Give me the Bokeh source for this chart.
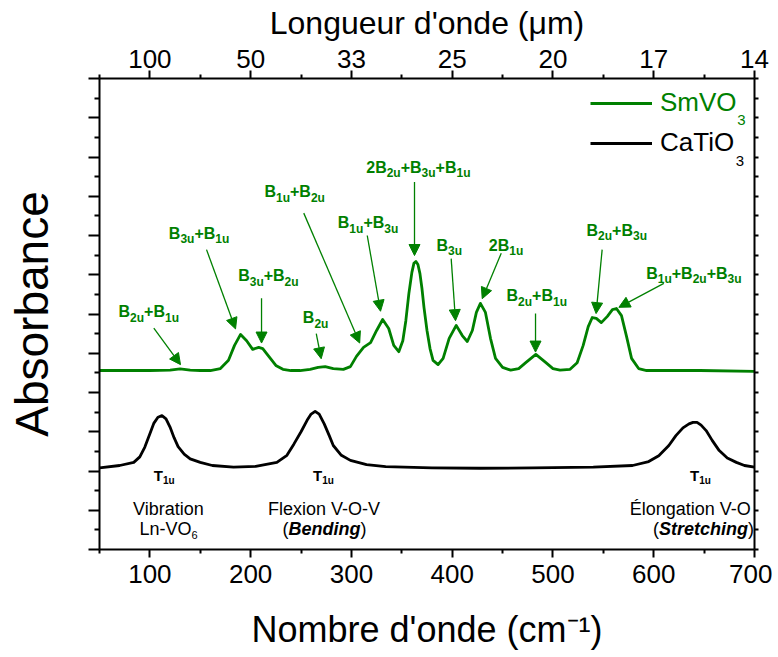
import re
from bokeh.plotting import figure
from bokeh.models import (Range1d, LinearAxis, FixedTicker, Label, Arrow, NormalHead,
                          ColumnDataSource, Legend, LegendItem)
from bokeh.embed import file_html
from bokeh.resources import INLINE

# ---------------- data ----------------
smvo3_wn = [50, 100, 120, 130, 140, 150, 160, 170, 178, 184, 190, 196, 202, 208, 212, 218, 225, 232,
            240, 249, 259, 267, 274, 282, 292, 299, 305, 312, 319, 325, 331, 337, 342, 347, 351, 354,
            357, 360, 362, 364, 366, 368, 370, 372, 375, 378, 381, 386, 391, 397, 404, 410, 415, 420,
            424, 428, 433, 438, 443, 450, 458, 466, 473, 483, 493, 500, 507, 517, 524, 530, 535, 539,
            543, 548, 554, 559, 563, 568, 573, 578, 585, 593, 646, 700]
smvo3_abs = [4.56, 4.56, 4.57, 4.60, 4.57, 4.56, 4.56, 4.61, 4.82, 5.20, 5.48, 5.32, 5.10, 5.15, 5.12,
             4.92, 4.69, 4.59, 4.56, 4.56, 4.59, 4.64, 4.66, 4.61, 4.59, 4.66, 4.92, 5.15, 5.27, 5.58,
             5.86, 5.63, 5.20, 5.04, 5.32, 5.83, 6.52, 7.06, 7.29, 7.34, 7.26, 7.03, 6.65, 6.17, 5.58,
             5.12, 4.82, 4.71, 4.87, 5.38, 5.71, 5.45, 5.30, 5.58, 6.04, 6.27, 6.04, 5.38, 4.87, 4.64,
             4.57, 4.61, 4.76, 4.97, 4.76, 4.61, 4.57, 4.59, 4.76, 5.20, 5.68, 5.91, 5.89, 5.78, 5.94,
             6.11, 6.14, 5.96, 5.43, 4.87, 4.61, 4.56, 4.56, 4.54]

catio3_wn = [50, 70, 84, 90, 95, 100, 104, 108, 112, 116, 120, 124, 128, 134, 140, 150, 162, 183, 205,
             226, 236, 243, 250, 256, 260, 264, 268, 273, 278, 282, 290, 299, 315, 334, 380, 428, 480,
             540, 579, 595, 605, 615, 622, 629, 635, 639, 643, 647, 652, 658, 665, 673, 682, 690, 700]
catio3_abs = [2.08, 2.14, 2.22, 2.36, 2.61, 2.95, 3.22, 3.37, 3.41, 3.33, 3.12, 2.85, 2.62, 2.43, 2.31,
              2.22, 2.14, 2.10, 2.12, 2.22, 2.40, 2.69, 3.00, 3.29, 3.45, 3.52, 3.45, 3.20, 2.90, 2.65,
              2.40, 2.27, 2.16, 2.11, 2.08, 2.07, 2.08, 2.10, 2.14, 2.24, 2.39, 2.65, 2.90, 3.10, 3.20,
              3.24, 3.24, 3.17, 3.03, 2.78, 2.52, 2.33, 2.22, 2.14, 2.10]

wn_ticks = [100, 200, 300, 400, 500, 600, 700]
wn_minor = [50, 150, 250, 350, 450, 550, 650]
wavelength_labels = ["100", "50", "33", "25", "20", "17", "14"]

series_names = ["SmVO", "CaTiO"]          # + subscript "3"

# band assignments (green) : text, label anchor, arrow start -> arrow end
band_texts = ["B_{2u}+B_{1u}", "B_{3u}+B_{1u}", "B_{3u}+B_{2u}", "B_{2u}", "B_{1u}+B_{2u}",
              "B_{1u}+B_{3u}", "2B_{2u}+B_{3u}+B_{1u}", "B_{3u}", "2B_{1u}", "B_{2u}+B_{1u}",
              "B_{2u}+B_{3u}", "B_{1u}+B_{2u}+B_{3u}"]
band_x = [68.9, 118.8, 187.6, 251.8, 213.7, 286.5, 314.7, 384.4, 436.3, 453.9, 533.3, 592.5]
band_y = [6.06, 8.06, 6.98, 5.90, 9.12, 8.32, 9.74, 7.75, 7.75, 6.47, 8.13, 7.04]
arrow_x0 = [103.9, 156.2, 210.8, 265.1, 252.7, 315.7, 362.6, 399.0, 448.7, 482.7, 548.8, 610.0]
arrow_y0 = [5.64, 7.64, 6.40, 5.50, 8.57, 8.00, 9.36, 7.41, 7.55, 6.01, 7.64, 6.78]
arrow_x1 = [130.4, 185.0, 210.8, 270.0, 308.2, 328.9, 362.6, 403.3, 429.8, 482.7, 542.8, 565.4]
arrow_y1 = [4.71, 5.62, 5.26, 4.86, 5.26, 6.07, 7.49, 5.83, 6.39, 5.03, 6.01, 6.17]

# CaTiO3 T1u modes
t1u_x = [114.2, 272.3, 646.4]

# ---------------- style ----------------
FONT = "Liberation Sans"
GREEN = "#008000"
BLACK = "#000000"
PXY = 12 / 471.0   # data units per pixel (y)

W_REG = {' ': 278, '(': 333, ')': 333, '+': 584, '-': 333, 'A': 667, 'B': 667, 'C': 722, 'L': 556,
         'N': 722, 'O': 778, 'S': 667, 'T': 611, 'V': 667, 'É': 667, 'F': 611, 'a': 556, 'b': 556,
         'c': 500, 'd': 556, 'e': 556, 'g': 556, 'i': 222, 'l': 222, 'm': 833, 'n': 556, 'o': 556,
         'r': 333, 's': 500, 't': 278, 'u': 556, 'x': 500, "'": 191, 'μ': 576}
W_BOLD = {' ': 278, '(': 333, ')': 333, '+': 584, '-': 333, 'B': 722, 'T': 611, 'S': 667, 'a': 556,
          'c': 556, 'd': 611, 'e': 556, 'g': 611, 'h': 611, 'i': 278, 'n': 611, 'r': 389, 't': 333,
          'u': 611}


def tw(text, size, style):
    table = W_BOLD if "bold" in style else W_REG
    return sum(table.get(c, 556) for c in text) * size / 1000.0


W, H = 772, 657
p = figure(width=W, height=H, x_range=Range1d(50, 700), y_range=Range1d(0, 12),
           output_backend="svg", toolbar_location=None, title=None,
           x_axis_location=None, y_axis_location=None,
           min_border_left=99, min_border_right=W - 754, min_border_top=78, min_border_bottom=H - 549)
p.outline_line_color = None
p.background_fill_color = "white"
p.border_fill_color = "white"
p.grid.visible = False


def style_axis(ax, major_out, minor_out, label_size="26px", standoff=6, show=True):
    ax.axis_line_width = 2
    ax.major_tick_line_width = 2
    ax.minor_tick_line_width = 2
    ax.major_tick_in = 0
    ax.minor_tick_in = 0
    ax.major_tick_out = major_out
    ax.minor_tick_out = minor_out
    ax.major_label_text_font = FONT
    ax.major_label_standoff = standoff
    ax.axis_label_text_font = FONT
    ax.axis_label_text_font_style = "normal"
    ax.axis_label_text_color = BLACK
    if show:
        ax.major_label_text_font_size = label_size
        ax.major_label_text_color = BLACK
    else:
        ax.major_label_text_font_size = "0px"
        ax.major_label_text_color = None
        ax.major_label_standoff = 0


bottom = LinearAxis(ticker=FixedTicker(ticks=wn_ticks, minor_ticks=wn_minor),
                    axis_label="Nombre d'onde (cm\u207b\u00b9)")
style_axis(bottom, 8, 4, standoff=7)
bottom.axis_label_text_font_size = "36px"
bottom.axis_label_standoff = 23
p.add_layout(bottom, "below")

top = LinearAxis(ticker=FixedTicker(ticks=wn_ticks, minor_ticks=wn_minor),
                 major_label_overrides=dict(zip(wn_ticks, wavelength_labels)),
                 axis_label="Longueur d'onde (μm)")
style_axis(top, 8, 4, standoff=3)
top.axis_label_text_font_size = "32px"
top.axis_label_standoff = 6
p.add_layout(top, "above")

left = LinearAxis(ticker=FixedTicker(ticks=list(range(0, 13)), minor_ticks=[i + 0.5 for i in range(12)]),
                  axis_label="Absorbance")
style_axis(left, 11, 5, show=False)
left.axis_label_text_font_size = "46px"
left.axis_label_standoff = 31
p.add_layout(left, "left")

right = LinearAxis(ticker=FixedTicker(ticks=[i * 0.5 for i in range(25)], minor_ticks=[]))
style_axis(right, 4, 0, show=False)
p.add_layout(right, "right")

# ---------------- curves ----------------
r_sm = p.line(smvo3_wn, smvo3_abs, line_color=GREEN, line_width=2.8, line_join="round")
r_ca = p.line(catio3_wn, catio3_abs, line_color=BLACK, line_width=2.8, line_join="round")

# ---------------- legend ----------------
for name, rend, col, loc in [(series_names[0], r_sm, GREEN, (491, 431)),
                             (series_names[1], r_ca, BLACK, (491, 391))]:
    leg = Legend(items=[LegendItem(label=name, renderers=[rend])], location=loc,
                 padding=0, margin=0, spacing=0, glyph_width=62, glyph_height=30,
                 label_height=30, label_standoff=8, border_line_color=None,
                 background_fill_alpha=0, label_text_font=FONT, label_text_font_size="26px",
                 label_text_color=col)
    p.add_layout(leg)


def rich(x, y, parts, color, align="left"):
    ws = [tw(t, sz, st) for t, sz, st, sh in parts]
    total = sum(ws)
    off = {"left": 0, "center": -total / 2, "right": -total}[align]
    for (t, sz, st, sh), w in zip(parts, ws):
        p.add_layout(Label(x=x, y=y - sh * PXY, x_offset=off, text=t, text_font=FONT,
                           text_font_size=f"{sz}px", text_font_style=st, text_color=color,
                           text_baseline="alphabetic", text_align="left"))
        off += w


def parse(spec, size, sub_size, style, shift):
    toks = re.split(r"_\{([^}]*)\}", spec)
    parts = []
    for i, t in enumerate(toks):
        if not t:
            continue
        if i % 2 == 0:
            parts.append((t, size, style, 0))
        else:
            parts.append((t, sub_size, style, shift))
    return parts


# legend subscripts
rich(683.0, 10.93, [("3", 15, "normal", 0)], GREEN)
rich(681.5, 9.91, [("3", 15, "normal", 0)], BLACK)

# band labels
for t, x, y in zip(band_texts, band_x, band_y):
    rich(x, y, parse(t, 16, 12, "bold", 6), GREEN)

arrows = ColumnDataSource(dict(x0=arrow_x0, y0=arrow_y0, x1=arrow_x1, y1=arrow_y1))
p.add_layout(Arrow(source=arrows, x_start="x0", y_start="y0", x_end="x1", y_end="y1",
                   line_color=GREEN, line_width=1.3,
                   end=NormalHead(size=11, fill_color=GREEN, line_color=GREEN, line_width=1)))

# CaTiO3 mode labels
for x in t1u_x:
    rich(x, 1.88, parse("T_{1u}", 15, 10, "bold", 5), BLACK, align="center")

rich(118.5, 1.03, [("Vibration", 18, "normal", 0)], BLACK, align="center")
rich(118.5, 0.52, parse("Ln-VO_{6}", 18, 11, "normal", 6), BLACK, align="center")
rich(273.3, 1.03, [("Flexion V-O-V", 18, "normal", 0)], BLACK, align="center")
rich(273.3, 0.52, [("(", 18, "normal", 0), ("Bending", 18, "bold italic", 0), (")", 18, "normal", 0)],
     BLACK, align="center")
rich(697.3, 1.03, [("Élongation V-O", 18, "normal", 0)], BLACK, align="right")
rich(699.5, 0.52, [("(", 18, "normal", 0), ("Stretching", 18, "bold italic", 0), (")", 18, "normal", 0)],
     BLACK, align="right")

open("out.html", "w").write(file_html(p, INLINE))
